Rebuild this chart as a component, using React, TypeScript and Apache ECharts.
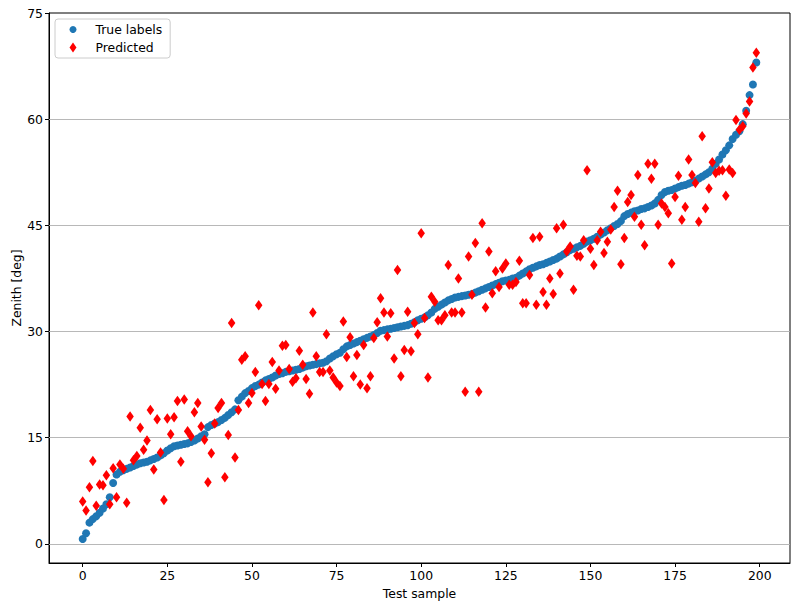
import React, { useEffect, useRef } from "react";
import * as echarts from "echarts";

const xTicks = [0, 25, 50, 75, 100, 125, 150, 175, 200];
const yTicks = [0, 15, 30, 45, 60, 75];
const gridLines = [0, 15, 30, 45, 60];

const trueLabels = [
  0.7, 1.5, 3.0, 3.5, 3.9, 4.4, 5.0, 5.6, 6.6, 8.6,
  9.8, 10.2, 10.4, 10.6, 10.8, 11.0, 11.2, 11.4, 11.5, 11.6,
  11.8, 12.0, 12.2, 12.5, 12.8, 13.2, 13.5, 13.8, 13.9, 14.0,
  14.1, 14.2, 14.4, 14.6, 14.9, 15.2, 15.5, 16.5, 16.8, 17.0,
  17.2, 17.5, 17.8, 18.2, 18.6, 19.0, 20.3, 20.8, 21.3, 21.6,
  22.0, 22.3, 22.5, 22.8, 23.1, 23.3, 23.5, 23.8, 24.0, 24.1,
  24.3, 24.4, 24.5, 24.6, 24.7, 24.9, 25.1, 25.2, 25.3, 25.4,
  25.5, 25.6, 25.8, 26.2, 26.5, 26.8, 27.0, 27.5, 27.9, 28.1,
  28.3, 28.5, 28.7, 28.9, 29.1, 29.3, 29.5, 29.8, 30.1, 30.2,
  30.3, 30.4, 30.5, 30.6, 30.7, 30.8, 30.9, 31.1, 31.3, 31.6,
  31.8, 32.0, 32.3, 32.7, 33.2, 33.5, 33.8, 34.1, 34.4, 34.6,
  34.8, 34.9, 35.0, 35.1, 35.2, 35.3, 35.5, 35.7, 35.9, 36.1,
  36.3, 36.5, 36.7, 36.9, 37.1, 37.2, 37.3, 37.5, 37.6, 37.9,
  38.2, 38.5, 38.8, 39.0, 39.2, 39.4, 39.5, 39.7, 39.9, 40.1,
  40.3, 40.6, 40.9, 41.2, 41.5, 41.7, 41.9, 42.1, 42.4, 42.7,
  42.9, 43.1, 43.4, 43.7, 44.0, 44.3, 44.6, 44.9, 45.2, 45.6,
  46.3, 46.6, 46.8, 47.0, 47.1, 47.3, 47.4, 47.6, 47.8, 48.1,
  48.6, 49.3, 49.7, 49.9, 50.0, 50.2, 50.4, 50.6, 50.7, 50.9,
  51.1, 51.3, 51.6, 51.9, 52.2, 52.5, 53.0, 53.7, 54.3, 55.0,
  55.6, 56.3, 57.2, 57.8, 58.3, 59.3, 61.2, 63.4, 64.9, 68.0,
];

const predicted = [
  6.0, 4.7, 8.0, 11.7, 5.4, 8.4, 8.3, 9.7, 5.6, 10.7,
  6.6, 11.2, 10.6, 5.8, 18.0, 11.8, 12.4, 16.4, 13.3, 14.6,
  18.9, 10.5, 17.6, 12.9, 6.2, 17.7, 15.5, 17.9, 20.2, 11.6,
  20.4, 15.9, 15.2, 18.6, 19.9, 16.6, 14.7, 8.7, 12.8, 17.0,
  19.2, 19.9, 9.4, 15.4, 31.2, 12.2, 18.9, 26.0, 26.5, 19.9,
  21.3, 24.3, 33.7, 22.6, 20.2, 22.6, 25.7, 21.9, 24.5, 28.0,
  28.1, 24.7, 22.9, 23.4, 27.3, 25.3, 23.3, 21.2, 32.7, 26.5,
  24.3, 24.3, 29.6, 24.5, 23.5, 22.8, 22.3, 31.4, 26.4, 29.2,
  23.7, 26.7, 22.5, 28.1, 22.0, 23.7, 29.1, 31.3, 34.7, 32.7,
  29.3, 32.6, 26.2, 38.7, 23.7, 27.4, 32.8, 27.2, 31.2, 29.6,
  43.9, 31.9, 23.5, 34.9, 34.2, 31.6, 31.6, 32.3, 39.4, 32.7,
  32.7, 37.5, 32.7, 21.5, 40.6, 35.2, 42.5, 21.5, 45.3, 33.4,
  41.3, 35.4, 38.5, 36.3, 38.9, 39.6, 36.6, 36.6, 37.0, 40.0,
  34.0, 34.0, 38.0, 43.2, 33.8, 43.4, 35.6, 33.8, 37.5, 35.3,
  44.6, 38.2, 45.1, 41.3, 42.0, 35.9, 40.7, 40.6, 42.9, 52.8,
  41.7, 39.4, 42.9, 44.1, 41.1, 42.7, 44.4, 47.6, 49.9, 39.5,
  43.2, 48.3, 49.3, 46.2, 52.1, 45.1, 42.2, 53.7, 51.6, 53.7,
  45.1, 48.1, 47.6, 46.7, 39.6, 49.0, 52.0, 45.8, 47.6, 54.3,
  52.1, 51.0, 45.5, 57.6, 47.4, 50.2, 53.9, 52.4, 52.7, 52.8,
  49.2, 52.9, 52.4, 59.9, 58.5, 59.0, 60.8, 62.5, 67.3, 69.4,
];

const FONT = "DejaVu Sans";
const FS = 12.4;

export default function App() {
  const ref = useRef<HTMLDivElement>(null);
  useEffect(() => {
    document.body.style.margin = "0";
    const chart = echarts.init(ref.current!, null, { renderer: "svg" });
    const axisText = { color: "#000", fontSize: FS, fontFamily: FONT };
    chart.setOption({
      animation: false,
      textStyle: { fontFamily: FONT },
      grid: {
        left: 49,
        right: 8,
        top: 13,
        bottom: 47,
        containLabel: false,
        outerBoundsMode: "none",
        show: true,
        borderColor: "#000",
        borderWidth: 1,
        backgroundColor: "transparent",
      },
      legend: {
        left: 55,
        top: 19,
        orient: "vertical",
        padding: [3, 8, 3, 14.5],
        itemWidth: 7,
        itemHeight: 10,
        itemGap: 3,
        backgroundColor: "rgba(255,255,255,0.8)",
        borderColor: "#cccccc",
        borderWidth: 1,
        borderRadius: 3,
        textStyle: {
          color: "#000",
          fontSize: FS,
          fontFamily: FONT,
          lineHeight: 15,
          padding: [0, 0, 0, 14],
        },
        data: [
          { name: "True labels", icon: "circle" },
          { name: "Predicted", icon: "diamond" },
        ],
      },
      xAxis: {
        type: "value",
        min: -9.95,
        max: 208.95,
        name: "Test sample",
        nameLocation: "middle",
        nameGap: 24,
        nameMoveOverlap: false,
        nameTextStyle: axisText,
        axisLine: { show: true, onZero: false, lineStyle: { color: "#000", width: 1 } },
        axisTick: { show: true, length: 4, customValues: xTicks, lineStyle: { color: "#000" } },
        axisLabel: { ...axisText, margin: 6, customValues: xTicks },
        splitLine: { show: false },
      },
      yAxis: {
        type: "value",
        min: -2.7,
        max: 75,
        name: "Zenith [deg]",
        nameLocation: "middle",
        nameGap: 27,
        nameMoveOverlap: false,
        nameTextStyle: axisText,
        axisLine: { show: true, onZero: false, lineStyle: { color: "#000", width: 1 } },
        axisTick: { show: true, length: 4, customValues: yTicks, lineStyle: { color: "#000" } },
        axisLabel: { ...axisText, margin: 6, customValues: yTicks },
        splitLine: { show: false },
      },
      series: [
        {
          type: "scatter",
          name: "True labels",
          symbol: "circle",
          symbolSize: 8,
          itemStyle: { color: "#1f77b4", opacity: 1 },
          z: 2,
          data: trueLabels.map((v, i) => [i, v]),
          markLine: {
            silent: true,
            symbol: "none",
            z: 1,
            animation: false,
            label: { show: false },
            lineStyle: { color: "#b0b0b0", width: 0.9, type: "solid" },
            data: gridLines.map((y) => ({ yAxis: y })),
          },
        },
        {
          type: "scatter",
          name: "Predicted",
          symbol: "diamond",
          symbolSize: [7.5, 10.5],
          itemStyle: { color: "#ff0000", opacity: 1 },
          z: 3,
          data: predicted.map((v, i) => [i, v]),
        },
      ],
    });
    return () => chart.dispose();
  }, []);
  return <div ref={ref} style={{ width: 798, height: 610 }} />;
}
